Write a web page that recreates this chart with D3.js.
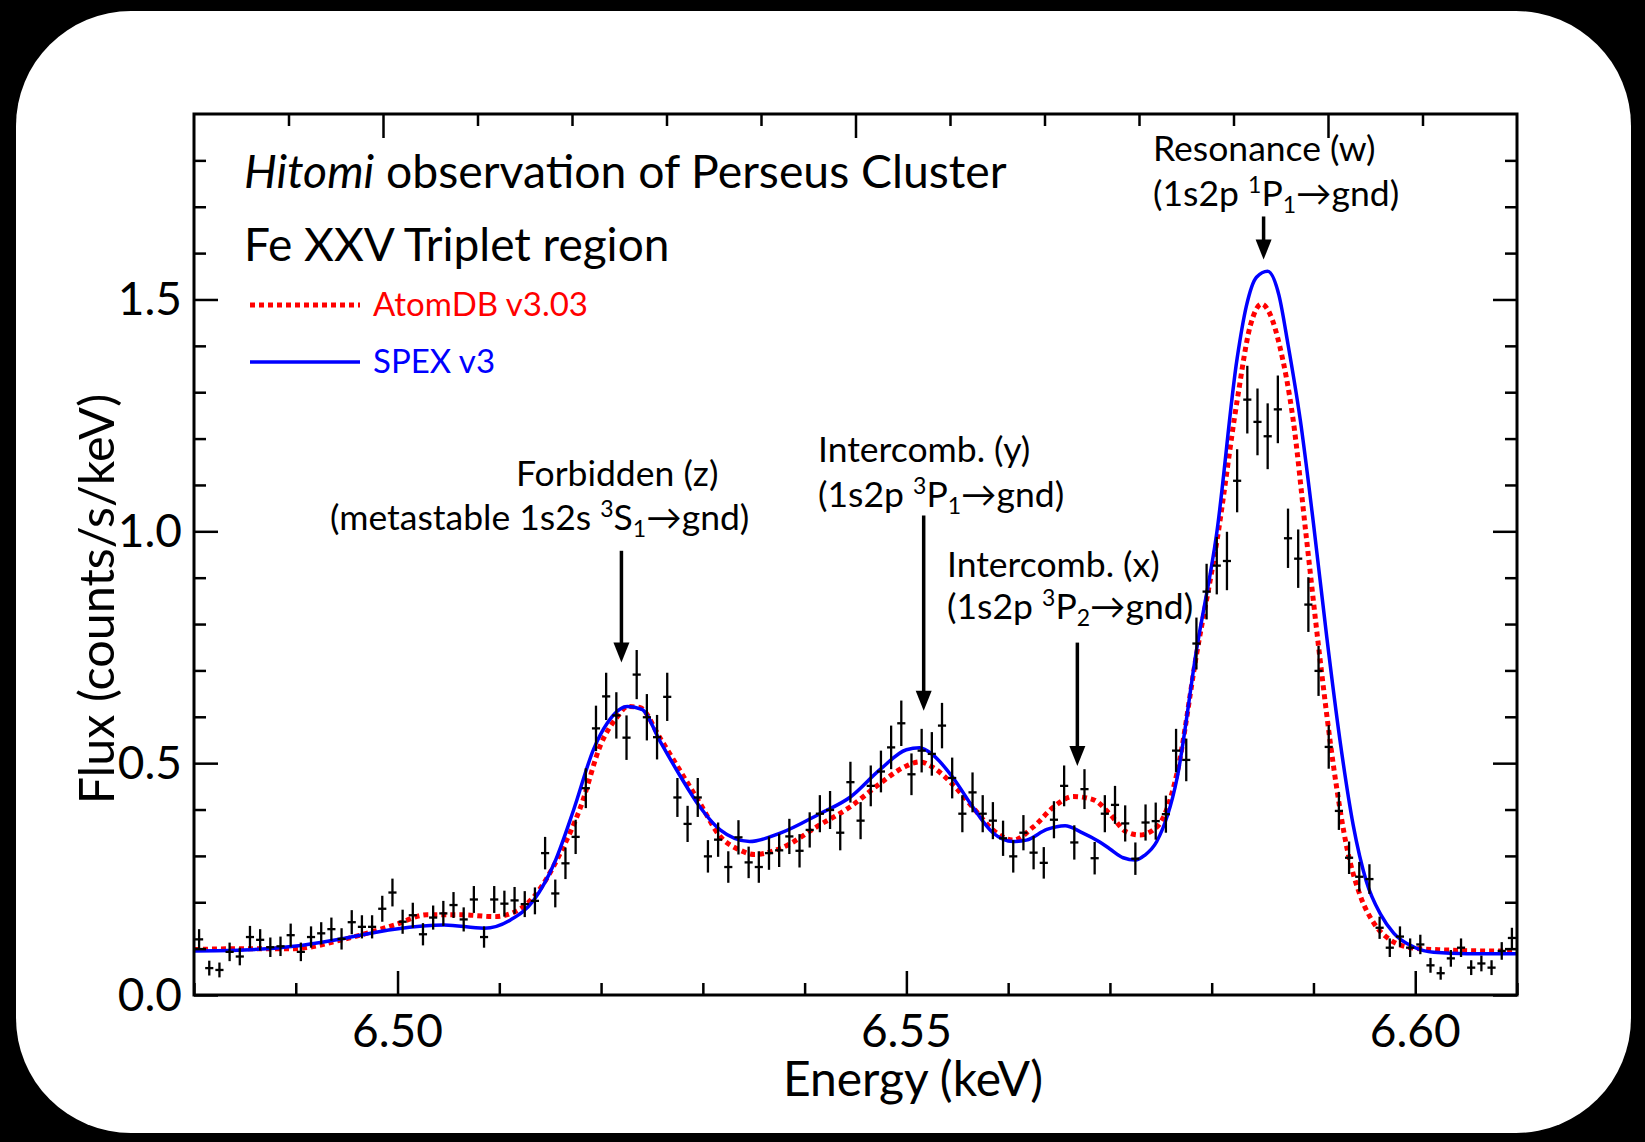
<!DOCTYPE html>
<html>
<head>
<meta charset="utf-8">
<script src="https://cdn.jsdelivr.net/npm/d3@7"></script>
<style>
  html, body { margin: 0; padding: 0; background: #000; }
  svg { display: block; }
  text { font-family: Lato, "Open Sans", sans-serif; }
</style>
</head>
<body>
<div id="chart"></div>
<script>
// Hitomi Fe XXV triplet spectrum

// observed spectrum: bin centres (keV), flux (counts/s/keV) and 1-sigma errors
var obsEnergy = [
  6.4805, 6.4815, 6.4825, 6.4835, 6.4845, 6.4855, 6.4865, 6.4875, 6.4885, 6.4895,
  6.4905, 6.4915, 6.4925, 6.4935, 6.4945, 6.4955, 6.4965, 6.4975, 6.4985, 6.4995,
  6.5005, 6.5015, 6.5025, 6.5035, 6.5045, 6.5055, 6.5065, 6.5075, 6.5085, 6.5095,
  6.5105, 6.5115, 6.5125, 6.5135, 6.5145, 6.5155, 6.5165, 6.5175, 6.5185, 6.5195,
  6.5205, 6.5215, 6.5225, 6.5235, 6.5245, 6.5255, 6.5265, 6.5275, 6.5285, 6.5295,
  6.5305, 6.5315, 6.5325, 6.5335, 6.5345, 6.5355, 6.5365, 6.5375, 6.5385, 6.5395,
  6.5405, 6.5415, 6.5425, 6.5435, 6.5445, 6.5455, 6.5465, 6.5475, 6.5485, 6.5495,
  6.5505, 6.5515, 6.5525, 6.5535, 6.5545, 6.5555, 6.5565, 6.5575, 6.5585, 6.5595,
  6.5605, 6.5615, 6.5625, 6.5635, 6.5645, 6.5655, 6.5665, 6.5675, 6.5685, 6.5695,
  6.5705, 6.5715, 6.5725, 6.5735, 6.5745, 6.5755, 6.5765, 6.5775, 6.5785, 6.5795,
  6.5805, 6.5815, 6.5825, 6.5835, 6.5845, 6.5855, 6.5865, 6.5875, 6.5885, 6.5895,
  6.5905, 6.5915, 6.5925, 6.5935, 6.5945, 6.5955, 6.5965, 6.5975, 6.5985, 6.5995,
  6.6005, 6.6015, 6.6025, 6.6035, 6.6045, 6.6055, 6.6065, 6.6075, 6.6085, 6.6095
];
var obsFlux = [
  0.120, 0.058, 0.054, 0.093, 0.083, 0.125, 0.119, 0.103, 0.105, 0.129,
  0.093, 0.125, 0.133, 0.142, 0.121, 0.157, 0.147, 0.147, 0.186, 0.221,
  0.158, 0.172, 0.131, 0.167, 0.176, 0.194, 0.163, 0.206, 0.125, 0.206,
  0.197, 0.204, 0.196, 0.203, 0.306, 0.219, 0.284, 0.341, 0.446, 0.575,
  0.644, 0.603, 0.555, 0.691, 0.599, 0.556, 0.643, 0.426, 0.369, 0.426,
  0.299, 0.335, 0.276, 0.340, 0.286, 0.276, 0.306, 0.312, 0.342, 0.311,
  0.356, 0.391, 0.399, 0.350, 0.459, 0.376, 0.451, 0.482, 0.534, 0.586,
  0.476, 0.527, 0.520, 0.581, 0.468, 0.391, 0.437, 0.391, 0.376, 0.338,
  0.299, 0.350, 0.307, 0.285, 0.378, 0.451, 0.329, 0.444, 0.295, 0.391,
  0.410, 0.370, 0.294, 0.372, 0.375, 0.390, 0.527, 0.507, 0.758, 0.870,
  0.926, 0.936, 1.109, 1.284, 1.236, 1.205, 1.263, 0.985, 0.941, 0.842,
  0.699, 0.535, 0.397, 0.296, 0.255, 0.250, 0.145, 0.102, 0.126, 0.102,
  0.109, 0.064, 0.047, 0.079, 0.102, 0.059, 0.068, 0.059, 0.095, 0.123
];
var obsError = [
  0.022, 0.016, 0.016, 0.020, 0.019, 0.024, 0.023, 0.021, 0.021, 0.025,
  0.020, 0.023, 0.024, 0.025, 0.023, 0.026, 0.025, 0.025, 0.028, 0.030,
  0.026, 0.027, 0.024, 0.026, 0.027, 0.028, 0.026, 0.029, 0.023, 0.029,
  0.028, 0.029, 0.028, 0.029, 0.035, 0.030, 0.034, 0.037, 0.043, 0.049,
  0.051, 0.050, 0.048, 0.053, 0.050, 0.048, 0.052, 0.042, 0.039, 0.042,
  0.035, 0.037, 0.034, 0.037, 0.034, 0.034, 0.036, 0.036, 0.038, 0.036,
  0.038, 0.040, 0.041, 0.038, 0.044, 0.040, 0.044, 0.045, 0.047, 0.049,
  0.045, 0.047, 0.047, 0.049, 0.044, 0.040, 0.043, 0.040, 0.040, 0.038,
  0.035, 0.038, 0.036, 0.034, 0.040, 0.044, 0.037, 0.043, 0.035, 0.040,
  0.041, 0.039, 0.035, 0.039, 0.040, 0.040, 0.047, 0.046, 0.056, 0.060,
  0.062, 0.063, 0.068, 0.073, 0.072, 0.071, 0.073, 0.064, 0.063, 0.059,
  0.054, 0.047, 0.041, 0.035, 0.032, 0.032, 0.024, 0.020, 0.022, 0.020,
  0.021, 0.016, 0.014, 0.018, 0.020, 0.016, 0.017, 0.016, 0.019, 0.022
];
var binHalfWidth = 0.0004;

// SPEX v3 model
var spexEnergy = [
  6.4800, 6.4849, 6.4898, 6.4947, 6.4997, 6.5046, 6.5085, 6.5111, 6.5134, 6.5154,
  6.5173, 6.5193, 6.5206, 6.5226, 6.5240, 6.5258, 6.5277, 6.5297, 6.5317, 6.5346,
  6.5376, 6.5415, 6.5445, 6.5474, 6.5500, 6.5513, 6.5526, 6.5546, 6.5566, 6.5585,
  6.5605, 6.5618, 6.5638, 6.5656, 6.5671, 6.5690, 6.5700, 6.5713, 6.5725, 6.5734,
  6.5746, 6.5766, 6.5785, 6.5805, 6.5825, 6.5834, 6.5844, 6.5855, 6.5866, 6.5875,
  6.5887, 6.5900, 6.5913, 6.5926, 6.5939, 6.5952, 6.5966, 6.5979, 6.5999, 6.6018,
  6.6051, 6.6100
];
var spexFlux = [
  0.095, 0.097, 0.105, 0.122, 0.142, 0.151, 0.144, 0.162, 0.205, 0.284,
  0.399, 0.532, 0.586, 0.622, 0.616, 0.547, 0.475, 0.406, 0.356, 0.331,
  0.349, 0.391, 0.427, 0.486, 0.529, 0.533, 0.518, 0.468, 0.403, 0.350,
  0.331, 0.334, 0.357, 0.365, 0.352, 0.330, 0.315, 0.296, 0.291, 0.301,
  0.331, 0.468, 0.743, 0.997, 1.373, 1.485, 1.548, 1.561, 1.510, 1.403,
  1.241, 1.017, 0.773, 0.550, 0.367, 0.245, 0.174, 0.133, 0.103, 0.092,
  0.089, 0.089
];

// AtomDB v3.03 model
var atomdbEnergy = [
  6.4800, 6.4849, 6.4898, 6.4947, 6.4997, 6.5029, 6.5062, 6.5095, 6.5114, 6.5134,
  6.5160, 6.5180, 6.5200, 6.5216, 6.5226, 6.5238, 6.5258, 6.5277, 6.5297, 6.5317,
  6.5336, 6.5351, 6.5376, 6.5415, 6.5445, 6.5474, 6.5500, 6.5513, 6.5526, 6.5546,
  6.5566, 6.5585, 6.5605, 6.5625, 6.5645, 6.5664, 6.5684, 6.5700, 6.5716, 6.5729,
  6.5746, 6.5766, 6.5785, 6.5805, 6.5825, 6.5838, 6.5849, 6.5857, 6.5867, 6.5880,
  6.5893, 6.5906, 6.5920, 6.5933, 6.5946, 6.5960, 6.5976, 6.5999, 6.6032, 6.6071,
  6.6100
];
var atomdbFlux = [
  0.098, 0.100, 0.100, 0.120, 0.151, 0.173, 0.173, 0.169, 0.178, 0.212,
  0.306, 0.406, 0.542, 0.600, 0.622, 0.620, 0.554, 0.486, 0.414, 0.342,
  0.313, 0.303, 0.316, 0.367, 0.406, 0.456, 0.494, 0.503, 0.491, 0.453,
  0.403, 0.356, 0.334, 0.363, 0.406, 0.428, 0.421, 0.390, 0.352, 0.345,
  0.362, 0.479, 0.733, 0.977, 1.282, 1.444, 1.490, 1.470, 1.398, 1.241,
  0.987, 0.733, 0.489, 0.316, 0.214, 0.153, 0.118, 0.101, 0.097, 0.095,
  0.095
];

// line identifications: arrow energy, arrow top and tip (flux)
var lineNames = ["z", "y", "x", "w"];
var lineEnergy = [6.5220, 6.5517, 6.5668, 6.5851];
var arrowTop = [0.958, 1.034, 0.760, 1.679];
var arrowTip = [0.717, 0.613, 0.494, 1.586];

// axis ticks
var xMajorTicks = [6.50, 6.55, 6.60];
var xMinorTicks = [6.48, 6.49, 6.51, 6.52, 6.53, 6.54, 6.56, 6.57, 6.58, 6.59, 6.61];
var xTickLabels = ["6.50", "6.55", "6.60"];
var topMajorTicks = [0, 5, 10];
var topMinorTicks = [-1, 1, 2, 3, 4, 6, 7, 8, 9, 11];
var yMajorTicks = [0.0, 0.5, 1.0, 1.5];
var yMinorTicks = [0.1, 0.2, 0.3, 0.4, 0.6, 0.7, 0.8, 0.9, 1.1, 1.2, 1.3, 1.4, 1.6, 1.7, 1.8];
var yTickLabels = ["0.0", "0.5", "1.0", "1.5"];

var width = 1645;
var height = 1142;
var plot = {left: 194, top: 114, right: 1517, bottom: 995};

var svg = d3.select("#chart").append("svg")
    .attr("width", width)
    .attr("height", height);

// white rounded card on black
svg.append("rect")
    .attr("x", 16).attr("y", 11)
    .attr("width", 1615).attr("height", 1122)
    .attr("rx", 115).attr("ry", 115)
    .attr("fill", "#fff");

var x = d3.scaleLinear().domain([6.48, 6.61]).range([plot.left, plot.right]);
var xTop = d3.scaleLinear().domain([-2, 12]).range([plot.left, plot.right]);
var y = d3.scaleLinear().domain([0, 1.9]).range([plot.bottom, plot.top]);

svg.append("clipPath").attr("id", "clip")
  .append("rect")
    .attr("x", plot.left).attr("y", plot.top)
    .attr("width", plot.right - plot.left).attr("height", plot.bottom - plot.top);

// models
var atomdbData = atomdbEnergy.map(function(e, i) { return [e, atomdbFlux[i]]; });
var spexData = spexEnergy.map(function(e, i) { return [e, spexFlux[i]]; });

var line = d3.line()
    .x(function(d) { return x(d[0]); })
    .y(function(d) { return y(d[1]); })
    .curve(d3.curveMonotoneX);

var models = svg.append("g").attr("clip-path", "url(#clip)");

// data points with error bars
var pts = svg.append("g").attr("stroke", "#000").attr("stroke-width", 2.3);
obsEnergy.forEach(function(e, i) {
    pts.append("line")
        .attr("x1", x(e)).attr("x2", x(e))
        .attr("y1", y(obsFlux[i] - obsError[i]))
        .attr("y2", y(obsFlux[i] + obsError[i]));
    pts.append("line")
        .attr("x1", x(e - binHalfWidth)).attr("x2", x(e + binHalfWidth))
        .attr("y1", y(obsFlux[i])).attr("y2", y(obsFlux[i]));
});

models.append("path")
    .datum(atomdbData)
    .attr("d", line)
    .attr("fill", "none")
    .attr("stroke", "#ff0000")
    .attr("stroke-width", 5)
    .attr("stroke-dasharray", "5,4");

models.append("path")
    .datum(spexData)
    .attr("d", line)
    .attr("fill", "none")
    .attr("stroke", "#0000ff")
    .attr("stroke-width", 3.5);

// axes, ticks inside on all four sides
function tickAxis(axisFn, scale, values, len, transform) {
    var g = svg.append("g")
        .attr("transform", transform)
        .call(axisFn(scale).tickValues(values).tickSize(-len).tickFormat(""));
    g.select(".domain").remove();
    g.selectAll(".tick line").attr("stroke", "#000").attr("stroke-width", 2.5);
    return g;
}
tickAxis(d3.axisBottom, x, xMajorTicks, 24, "translate(0," + plot.bottom + ")");
tickAxis(d3.axisBottom, x, xMinorTicks, 12, "translate(0," + plot.bottom + ")");
tickAxis(d3.axisTop, xTop, topMajorTicks, 24, "translate(0," + plot.top + ")");
tickAxis(d3.axisTop, xTop, topMinorTicks, 12, "translate(0," + plot.top + ")");
tickAxis(d3.axisLeft, y, yMajorTicks, 24, "translate(" + plot.left + ",0)");
tickAxis(d3.axisLeft, y, yMinorTicks, 12, "translate(" + plot.left + ",0)");
tickAxis(d3.axisRight, y, yMajorTicks, 24, "translate(" + plot.right + ",0)");
tickAxis(d3.axisRight, y, yMinorTicks, 12, "translate(" + plot.right + ",0)");

svg.append("rect")
    .attr("x", plot.left).attr("y", plot.top)
    .attr("width", plot.right - plot.left).attr("height", plot.bottom - plot.top)
    .attr("fill", "none").attr("stroke", "#000").attr("stroke-width", 3);

// tick labels
svg.append("g").selectAll("text")
    .data(xMajorTicks)
    .enter().append("text")
      .attr("x", function(d) { return x(d); })
      .attr("y", 1047)
      .attr("text-anchor", "middle")
      .attr("font-size", 46)
      .text(function(d, i) { return xTickLabels[i]; });

svg.append("g").selectAll("text")
    .data(yMajorTicks)
    .enter().append("text")
      .attr("x", 182)
      .attr("y", function(d) { return y(d) + 16; })
      .attr("text-anchor", "end")
      .attr("font-size", 46)
      .text(function(d, i) { return yTickLabels[i]; });

// axis titles
svg.append("text")
    .attr("x", 913).attr("y", 1096)
    .attr("text-anchor", "middle")
    .attr("font-size", 48)
    .text("Energy (keV)");

svg.append("text")
    .attr("transform", "translate(114,599) rotate(-90)")
    .attr("text-anchor", "middle")
    .attr("font-size", 48.5)
    .text("Flux (counts/s/keV)");

// title lines
var t1 = svg.append("text").attr("x", 244).attr("y", 188).attr("font-size", 46.3);
t1.append("tspan").attr("font-style", "italic").text("Hitomi");
t1.append("tspan").text(" observation of Perseus Cluster");
svg.append("text").attr("x", 244).attr("y", 261).attr("font-size", 46)
    .text("Fe XXV Triplet region");

// legend
svg.append("line")
    .attr("x1", 250).attr("x2", 360).attr("y1", 305).attr("y2", 305)
    .attr("stroke", "#ff0000").attr("stroke-width", 5).attr("stroke-dasharray", "5,4");
svg.append("text").attr("x", 373).attr("y", 316).attr("font-size", 33)
    .attr("fill", "#ff0000").text("AtomDB v3.03");
svg.append("line")
    .attr("x1", 250).attr("x2", 360).attr("y1", 362).attr("y2", 362)
    .attr("stroke", "#0000ff").attr("stroke-width", 3.5);
svg.append("text").attr("x", 373).attr("y", 373).attr("font-size", 33)
    .attr("fill", "#0000ff").text("SPEX v3");

// line annotations
function transition(xp, yp, parts) {
    // parts: [prefix, sup, letter, sub, suffix]
    var t = svg.append("text").attr("x", xp).attr("y", yp).attr("font-size", 35.5);
    t.append("tspan").text(parts[0]);
    t.append("tspan").attr("font-size", 23).attr("dy", -13).text(parts[1]);
    t.append("tspan").attr("dy", 13).text(parts[2]);
    t.append("tspan").attr("font-size", 23).attr("dy", 7).text(parts[3]);
    t.append("tspan").attr("dy", -7).text(parts[4]);
}
function label(xp, yp, s) {
    svg.append("text").attr("x", xp).attr("y", yp).attr("font-size", 35.5).text(s);
}

label(516, 486, "Forbidden (z)");
transition(330, 530, ["(metastable 1s2s ", "3", "S", "1", "\u2192gnd)"]);
label(818, 462, "Intercomb. (y)");
transition(818, 507, ["(1s2p ", "3", "P", "1", "\u2192gnd)"]);
label(947, 577, "Intercomb. (x)");
transition(947, 619, ["(1s2p ", "3", "P", "2", "\u2192gnd)"]);
label(1153, 161, "Resonance (w)");
transition(1153, 206, ["(1s2p ", "1", "P", "1", "\u2192gnd)"]);

// arrows
var arrows = svg.append("g");
lineNames.forEach(function(n, i) {
    var ax = x(lineEnergy[i]);
    var y0 = y(arrowTop[i]);
    var y1 = y(arrowTip[i]);
    arrows.append("line")
        .attr("x1", ax).attr("x2", ax)
        .attr("y1", y0).attr("y2", y1 - 14)
        .attr("stroke", "#000").attr("stroke-width", 3.5);
    arrows.append("path")
        .attr("d", "M" + (ax - 8) + "," + (y1 - 20) + "L" + (ax + 8) + "," + (y1 - 20) + "L" + ax + "," + y1 + "Z")
        .attr("fill", "#000");
});
</script>
</body>
</html>
